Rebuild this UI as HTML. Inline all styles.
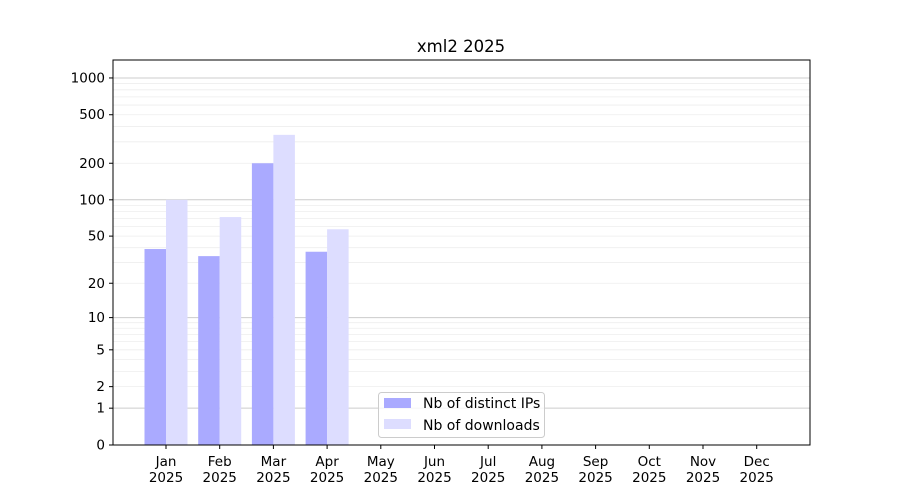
<!DOCTYPE html><html><head><style>body{margin:0;background:#fff}svg{display:block;font-family:"DejaVu Sans","Liberation Sans",sans-serif}</style></head><body>
<svg id="s" width="900" height="500" xmlns="http://www.w3.org/2000/svg">
<rect width="900" height="500" fill="#fff"/>
<g id="grid"></g>
<g id="bars"></g>
<rect x="113" y="60" width="697" height="385" fill="none" stroke="#000" stroke-width="1"/>
<g id="ticks" font-size="13.5" fill="#000"></g>
<text x="461" y="52" font-size="16.5" text-anchor="middle">xml2 2025</text>
<g>
<rect x="378.5" y="392.5" width="166" height="45" rx="3" fill="#fff" fill-opacity="0.8" stroke="#ccc"/>
<rect x="384" y="398" width="27" height="10" fill="#aaaaff"/>
<rect x="384" y="419" width="27" height="10" fill="#ddddff"/>
<text x="423" y="408" font-size="14">Nb of distinct IPs</text>
<text x="423" y="430" font-size="14">Nb of downloads</text>
</g>
</svg>
<script>
var ns="http://www.w3.org/2000/svg";
function Y(v){return 445-122.33*Math.log10(1+v);}
function el(p,t,a,txt){var e=document.createElementNS(ns,t);for(var k in a)e.setAttribute(k,a[k]);if(txt!=null)e.textContent=txt;document.getElementById(p).appendChild(e);return e;}
var minors=[];
[1,10,100].forEach(function(d){for(var i=2;i<10;i++)minors.push(i*d);});
minors.forEach(function(v){var y=Y(v);el("grid","line",{x1:113,x2:810,y1:y,y2:y,stroke:"#eee","stroke-width":0.8});});
[1,10,100,1000].forEach(function(v){var y=Y(v);el("grid","line",{x1:113,x2:810,y1:y,y2:y,stroke:"#ccc","stroke-width":1});});
[0,1,2,5,10,20,50,100,200,500,1000].forEach(function(v){var y=Y(v);el("ticks","line",{x1:109,x2:113,y1:y,y2:y,stroke:"#000"});el("ticks","text",{x:105,y:y+4.5,"text-anchor":"end"},v);});
var m=["Jan","Feb","Mar","Apr","May","Jun","Jul","Aug","Sep","Oct","Nov","Dec"];
var ip=[39,34,200,37],dl=[100,72,342,57];
for(var i=0;i<12;i++){var x=166+i*53.7;
el("ticks","line",{x1:x,x2:x,y1:445,y2:449,stroke:"#000"});
el("ticks","text",{x:x,y:466,"text-anchor":"middle"},m[i]);
el("ticks","text",{x:x,y:482,"text-anchor":"middle"},"2025");
if(i<4){el("bars","rect",{x:x-21.5,y:Y(ip[i]),width:21.5,height:445-Y(ip[i]),fill:"#aaaaff"});
el("bars","rect",{x:x,y:Y(dl[i]),width:21.5,height:445-Y(dl[i]),fill:"#ddddff"});}}
</script>
</body></html>
